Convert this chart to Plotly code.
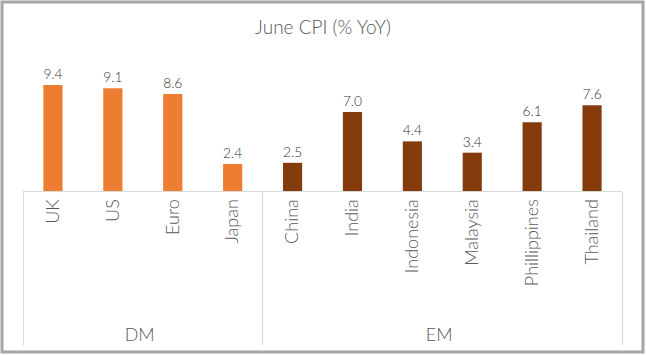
import plotly.graph_objects as go

groups = ["DM", "DM", "DM", "DM", "EM", "EM", "EM", "EM", "EM", "EM"]
countries = ["UK", "US", "Euro", "Japan", "China", "India", "Indonesia", "Malaysia", "Phillippines", "Thailand"]
cpi = [9.4, 9.1, 8.6, 2.4, 2.5, 7.0, 4.4, 3.4, 6.1, 7.6]
colors = ["#ED7D31"] * 4 + ["#843C0C"] * 6

W, H = 646, 355
ML, MR, MT, MB = 23, 24, 73, 164
PW, PH = W - ML - MR, H - MT - MB
FONT = "Lato"
PAD = "\u00a0" * 4  # extra room below rotated labels, as in the reference

fig = go.Figure()
fig.add_trace(go.Bar(
    x=[groups, [PAD + c for c in countries]], y=cpi,
    marker=dict(color=colors, line_width=0),
    text=[f"{v:.1f}" for v in cpi], textposition="outside",
    textfont=dict(size=19, color="#333333", family=FONT, weight=300),
    cliponaxis=False,
))
fig.update_layout(
    width=W, height=H,
    margin=dict(l=ML, r=MR, t=MT, b=MB, autoexpand=False),
    paper_bgcolor="white", plot_bgcolor="white",
    bargap=0.68,
    showlegend=False,
    font=dict(family=FONT, color="#595959", weight=300),
    title=dict(text="June CPI (% YoY)", x=0.5, xanchor="center", y=1 - 27 / H, yanchor="middle",
               font=dict(size=19, color="#595959", family=FONT, weight=300)),
    xaxis=dict(type="multicategory", tickangle=-90,
               tickfont=dict(size=18, color="#595959", family=FONT, weight=300),
               automargin=False,
               showline=True, linecolor="#D9D9D9", linewidth=1,
               showdividers=True, dividercolor="#D9D9D9", dividerwidth=1, ticks=""),
    yaxis=dict(visible=False, range=[0, PH / 11.28]),
    shapes=[dict(type="rect", xref="paper", yref="paper",
                 x0=(2 - ML) / PW, x1=(643 - ML) / PW,
                 y0=(MT + PH - 352) / PH, y1=(MT + PH - 2) / PH,
                 line=dict(color="#A6A6A6", width=3))],
)
fig.write_html("out.html", config={"displayModeBar": False},
               post_script="document.body.style.margin='0';document.body.style.overflow='hidden';")
